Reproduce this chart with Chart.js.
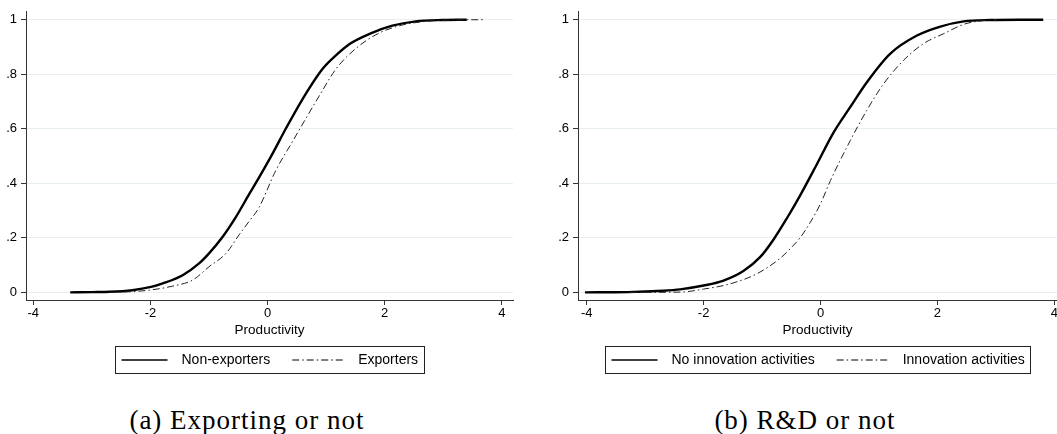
<!DOCTYPE html>
<html>
<head>
<meta charset="utf-8">
<script src="https://cdn.jsdelivr.net/npm/chart.js@4"></script>
<style>
  html, body { margin: 0; padding: 0; background: #fff; }
  body { width: 1057px; height: 434px; position: relative; overflow: hidden; }
  .panel { position: absolute; top: 0; }
  .cap {
    position: absolute; top: 407px; width: 400px; text-align: center;
    font-family: "Liberation Serif", "Times New Roman", serif;
    font-size: 27px; line-height: 27px; letter-spacing: 1px;
    color: #000; white-space: nowrap;
  }
</style>
</head>
<body>
<canvas id="chA" class="panel" style="left:0" width="537" height="380"></canvas>
<canvas id="chB" class="panel" style="left:552px" width="505" height="380"></canvas>
<div class="cap" style="left:47px">(a) Exporting or not</div>
<div class="cap" style="left:605px">(b) R&amp;D or not</div>

<script>
/* ── Data ──────────────────────────────────────────────────────────── */
const xTicks      = [-4, -2, 0, 2, 4];
const yTicks      = [0, 0.2, 0.4, 0.6, 0.8, 1];
const yTickLabels = ['0', '.2', '.4', '.6', '.8', '1'];
const xTitle      = 'Productivity';

// (a) exporting or not
const nonExpX = [-3.37, -3.0, -2.7, -2.31, -1.99, -1.79, -1.45, -1.17, -1.0, -0.77, -0.54, -0.31, -0.15, 0.085, 0.31, 0.60, 0.94, 1.17, 1.40, 1.74, 2.13, 2.53, 2.99, 3.4];
const nonExpY = [0, 0.001, 0.002, 0.008, 0.02, 0.033, 0.063, 0.106, 0.143, 0.203, 0.277, 0.362, 0.42, 0.509, 0.60, 0.71, 0.82, 0.87, 0.911, 0.948, 0.978, 0.994, 0.999, 1.0];
const expX    = [-2.7, -2.3, -2.02, -1.62, -1.28, -1.0, -0.71, -0.48, -0.31, -0.15, 0.14, 0.43, 0.66, 0.88, 1.17, 1.51, 1.85, 2.25, 2.71, 3.2, 3.70];
const expY    = [0, 0.003, 0.008, 0.023, 0.045, 0.094, 0.143, 0.213, 0.262, 0.31, 0.447, 0.555, 0.64, 0.72, 0.82, 0.895, 0.945, 0.978, 0.994, 0.999, 1.0];
const labelsA = ['Non-exporters', 'Exporters'];

// (b) R&D or not
const noInnovX = [-4.03, -3.3, -2.69, -2.40, -2.0, -1.66, -1.32, -1.03, -0.80, -0.58, -0.35, -0.06, 0.22, 0.51, 0.79, 1.19, 1.65, 2.05, 2.45, 2.91, 3.4, 3.81];
const noInnovY = [0, 0.001, 0.006, 0.011, 0.025, 0.043, 0.078, 0.13, 0.195, 0.27, 0.355, 0.471, 0.585, 0.68, 0.77, 0.875, 0.942, 0.975, 0.994, 0.999, 1.0, 1.0];
const innovX   = [-3.26, -2.4, -2.0, -1.55, -1.09, -0.69, -0.52, -0.35, -0.18, 0.0, 0.17, 0.51, 0.79, 1.08, 1.42, 1.76, 2.11, 2.45, 2.79, 3.02];
const innovY   = [0, 0.001, 0.012, 0.031, 0.068, 0.125, 0.16, 0.2, 0.255, 0.325, 0.41, 0.557, 0.667, 0.765, 0.851, 0.912, 0.949, 0.983, 0.997, 1.0];
const labelsB  = ['No innovation activities', 'Innovation activities'];

/* ── Styling ───────────────────────────────────────────────────────── */
const FONT     = '"Liberation Sans", Arial, sans-serif';
const AXIS_COL = '#333';
const GRID_COL = '#e8eff2';
const DASH     = [7, 3, 1.5, 3];

// legend drawn as a framed box under the axis title
const boxLegend = {
  id: 'boxLegend',
  afterDraw(chart, args, opts) {
    const ctx = chart.ctx, a = chart.chartArea;
    const items = opts.items;
    ctx.save();
    ctx.font = '14px ' + FONT;
    const samples = [46, 52], gapTxt = 14, between = 22, pad = 6;
    let total = pad * 2;
    items.forEach(function(it, i) {
      total += samples[i] + gapTxt + ctx.measureText(it.text).width;
      if (i > 0) total += between;
    });
    const left = Math.round((a.left + a.right) / 2 - total / 2) + 0.5;
    const top  = Math.round(a.bottom + 46) + 0.5;
    const h    = 27;
    ctx.strokeStyle = '#222';
    ctx.lineWidth = 1;
    ctx.strokeRect(left, top, Math.round(total), h);

    let x = left + pad;
    const y = top + h / 2;
    items.forEach(function(it, i) {
      if (i > 0) x += between;
      ctx.beginPath();
      ctx.setLineDash(it.dash || []);
      ctx.lineWidth = it.dash ? 1 : 1.3;
      ctx.strokeStyle = '#000';
      ctx.moveTo(x, y);
      ctx.lineTo(x + samples[i], y);
      ctx.stroke();
      ctx.setLineDash([]);
      x += samples[i] + gapTxt;
      ctx.fillStyle = '#000';
      ctx.textBaseline = 'middle';
      ctx.textAlign = 'left';
      ctx.fillText(it.text, x, y + 0.5);
      x += ctx.measureText(it.text).width;
    });
    ctx.restore();
  }
};

function pts(xs, ys) {
  return xs.map(function(x, i) { return { x: x, y: ys[i] }; });
}

function makeChart(id, solidX, solidY, dashX, dashY, labels, xMin, xMax, padRight) {
  return new Chart(document.getElementById(id), {
    type: 'line',
    data: {
      datasets: [{
        label: labels[1],
        data: pts(dashX, dashY),
        borderColor: '#222',
        borderWidth: 1,
        borderDash: DASH,
        pointRadius: 0,
        fill: false,
        cubicInterpolationMode: 'monotone'
      }, {
        label: labels[0],
        data: pts(solidX, solidY),
        borderColor: '#000',
        borderWidth: 2.4,
        pointRadius: 0,
        fill: false,
        cubicInterpolationMode: 'monotone'
      }]
    },
    options: {
      responsive: false,
      animation: false,
      devicePixelRatio: 1,
      layout: { padding: { top: 11, left: 0, right: padRight, bottom: 42 } },
      plugins: {
        legend: { display: false },
        tooltip: { enabled: false },
        boxLegend: { items: [{ text: labels[0] }, { text: labels[1], dash: DASH }] }
      },
      scales: {
        x: {
          type: 'linear',
          min: xMin,
          max: xMax,
          afterBuildTicks: function(s) { s.ticks = xTicks.map(function(v) { return { value: v }; }); },
          afterFit: function(s) { s.height = 38; s.paddingLeft = 0; s.paddingRight = 0; },
          border: { color: AXIS_COL, width: 1 },
          grid: { drawOnChartArea: false, drawTicks: true, tickLength: 5, tickColor: AXIS_COL },
          ticks: {
            color: '#000', padding: 1, maxRotation: 0, autoSkip: false,
            font: { family: FONT, size: 13 },
            callback: function(v) { return String(v); }
          },
          title: {
            display: true, text: xTitle, color: '#000',
            font: { family: FONT, size: 13.5 }, padding: { top: 0, bottom: 0 }
          }
        },
        y: {
          type: 'linear',
          min: -0.028,
          max: 1.029,
          afterBuildTicks: function(s) { s.ticks = yTicks.map(function(v) { return { value: v }; }); },
          afterFit: function(s) { s.width = 26; },
          border: { color: AXIS_COL, width: 1 },
          grid: { color: GRID_COL, lineWidth: 1, drawTicks: true, tickLength: 5, tickColor: AXIS_COL },
          ticks: {
            color: '#000', padding: 4,
            font: { family: FONT, size: 13 },
            callback: function(v, i) { return yTickLabels[i]; }
          }
        }
      }
    },
    plugins: [boxLegend]
  });
}

makeChart('chA', nonExpX, nonExpY, expX, expY, labelsA, -4.125, 4.19, 24);
makeChart('chB', noInnovX, noInnovY, innovX, innovY, labelsB, -4.149, 4.046, 0);
</script>
</body>
</html>
